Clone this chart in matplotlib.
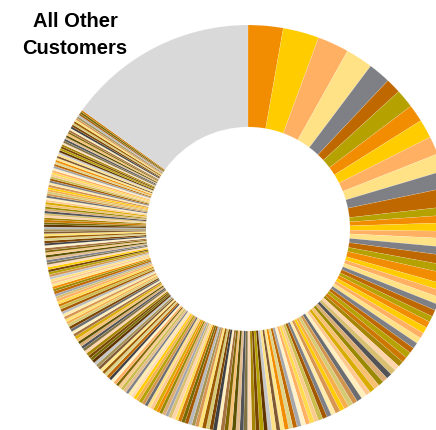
import numpy as np
import matplotlib
matplotlib.use("Agg")
import matplotlib.pyplot as plt
from matplotlib.colors import to_rgb

# share of revenue per customer (largest first)
top_customers = [9.9, 10.2, 8.9, 7.7, 6.3, 4.3, 5.3, 4.9, 5.3, 5.1, 5.0, 4.8,
                 5.3, 2.4, 2.2, 2.4, 2.1, 2.5, 2.4, 2.7, 2.3, 3.0, 2.0]
mid_customers = [1.9, 2.0, 1.8, 1.9, 1.7, 1.8, 1.8, 1.6, 1.7, 1.7, 1.6, 1.7, 1.6,
                 1.6, 1.5, 1.6, 1.6, 1.5, 1.5, 1.6, 1.5, 1.4, 1.5, 1.5, 1.4, 1.4,
                 1.4, 1.3, 1.4, 1.3, 1.3, 1.3, 1.3, 1.2, 1.3, 1.2,
                 1.3, 1.2, 1.2, 1.2, 1.2, 1.2, 1.1, 1.2, 1.2, 1.1,
                 1.2, 1.1, 1.1, 1.2, 1.1, 1.1, 1.1, 1.1, 1.0, 1.1,
                 1.1, 1.0, 1.1, 1.0, 1.0, 1.1, 1.0, 1.0, 1.0, 1.0, 1.0, 1.0]
small_customers = [1.0, 0.9, 1.0, 1.0, 0.9, 1.0, 0.9, 0.9, 1.0, 0.9,
                   0.9, 0.9, 0.9, 1.0, 0.9, 0.9, 0.9, 0.9, 0.8, 0.9,
                   0.9, 0.9, 0.8, 0.9, 0.9, 0.8, 0.9, 0.9, 0.8, 0.9,
                   0.8, 0.9, 0.8, 0.9, 0.8, 0.8, 0.9, 0.8, 0.8, 0.8,
                   0.8, 0.8, 0.8, 0.9, 0.8, 0.8, 0.8, 0.8, 0.8, 0.7,
                   0.8, 0.8, 0.8, 0.7, 0.8, 0.8, 0.7, 0.8]
tail_customers = [0.8, 0.7, 0.7, 0.8, 0.7, 0.7, 0.7, 0.7, 0.7,
                  0.7, 0.7, 0.7, 0.7, 0.7, 0.7, 0.6, 0.7, 0.7,
                  0.7, 0.7, 0.6, 0.7, 0.7, 0.6, 0.7, 0.7, 0.6,
                  0.7, 0.6, 0.7, 0.6, 0.7, 0.6, 0.7, 0.6, 0.6,
                  0.6, 0.7, 0.6, 0.6, 0.6, 0.7, 0.6, 0.6, 0.6,
                  0.6, 0.6, 0.6, 0.6, 0.7, 0.6, 0.6, 0.6, 0.6,
                  0.6, 0.6, 0.6, 0.6, 0.6, 0.6, 0.6, 0.6, 0.6,
                  0.6, 0.6, 0.5, 0.6, 0.6, 0.6, 0.6, 0.5, 0.6,
                  0.6, 0.5, 0.6, 0.6, 0.5, 0.6, 0.5, 0.6, 0.6,
                  0.5, 0.6, 0.5, 0.5, 0.6, 0.5, 0.5, 0.6, 0.5]
all_other = 54.0
all_other_label = "All Other\nCustomers"

customers = top_customers + mid_customers + small_customers + tail_customers
values = customers + [all_other]

base = ['#F28C00', '#FFCC00', '#FFB062', '#FFE285', '#7E8085', '#C06800', '#B5A100']


def shade(c, f):
    r = np.array(to_rgb(c))
    if f < 0:
        return tuple(r * (1 + f))
    return tuple(r + (1 - r) * f)


variants = [-0.35, 0.45, -0.15, 0.3, 0.0, 0.55, -0.5]
colors = []
for i in range(len(customers)):
    rnd = i // 7
    c = base[i % 7]
    if rnd < 5:
        colors.append(c)
    else:
        colors.append(shade(c, variants[(rnd - 5 + i % 3) % len(variants)]))
colors.append('#D9D9D9')

fig = plt.figure(figsize=(4.36, 4.31), dpi=100)
ax = fig.add_axes([0, 0, 1, 1])
ax.pie(values, colors=colors, startangle=90, counterclock=False,
       wedgeprops=dict(width=0.5, edgecolor=(1, 1, 1, 0.35), linewidth=0.25))
ax.set_aspect('auto')
R = 204.0
ax.set_xlim(-248 / R, (436 - 248) / R)
ax.set_ylim(-(431 - 230) / R, 230 / R)
ax.axis('off')

fig.text(75 / 436, 1 - 35 / 431, all_other_label, ha='center', va='center',
         fontsize=14.5, fontweight='bold', family='Liberation Sans',
         linespacing=1.5)

fig.savefig('out.png', dpi=100)
